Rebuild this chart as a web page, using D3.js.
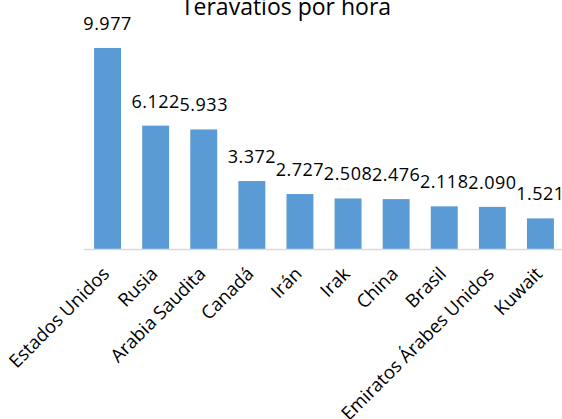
<!DOCTYPE html>
<html>
<head>
<meta charset="utf-8">
<script src="https://cdn.jsdelivr.net/npm/d3@7"></script>
<style>
  html, body { margin: 0; padding: 0; background: #fff; }
  svg { display: block; font-family: "Open Sans", sans-serif; }
</style>
</head>
<body>
<svg id="chart"></svg>
<script>
// datos del gráfico
var titulo = "Teravatios por hora";
var paises = ["Estados Unidos", "Rusia", "Arabia Saudita", "Canadá", "Irán", "Irak",
              "China", "Brasil", "Emiratos Árabes Unidos", "Kuwait"];
var valores = [9977, 6122, 5933, 3372, 2727, 2508, 2476, 2118, 2090, 1521];

var size = { width: 562, height: 419 };
var base = 249;   // posición del eje horizontal

var svg = d3.select("#chart")
    .attr("width", size.width)
    .attr("height", size.height);

// formato con punto de miles
var es = d3.formatLocale({ decimal: ",", thousands: ".", grouping: [3], currency: ["", "€"] });
var fmt = es.format(",d");

var x = d3.scaleBand()
    .domain(paises)
    .range([83.5, 564.5])
    .paddingInner(0.44)
    .paddingOuter(0.22);

var y = d3.scaleLinear()
    .domain([0, 10000])
    .range([base, 47.5]);

// título (cortado arriba como en el original)
svg.append("text")
    .attr("x", 286)
    .attr("y", 15)
    .attr("text-anchor", "middle")
    .style("font-size", "23px")
    .style("fill", "#000")
    .text(titulo);

// barras
svg.selectAll("rect.bar")
    .data(valores)
    .enter().append("rect")
    .attr("class", "bar")
    .attr("x", function(d, i){ return x(paises[i]); })
    .attr("y", function(d){ return y(d); })
    .attr("width", x.bandwidth())
    .attr("height", function(d){ return base - y(d); })
    .style("fill", "#5b9bd5");

// etiquetas de valores
svg.selectAll("text.valor")
    .data(valores)
    .enter().append("text")
    .attr("class", "valor")
    .attr("x", function(d, i){ return x(paises[i]) + x.bandwidth() / 2; })
    .attr("y", function(d){ return y(d) - 18; })
    .attr("text-anchor", "middle")
    .style("font-size", "18px")
    .style("letter-spacing", "0.5px")
    .style("fill", "#000")
    .text(function(d){ return fmt(d); });

// eje horizontal
var xAxis = d3.axisBottom(x).tickSize(0).tickPadding(0);
var gx = svg.append("g")
    .attr("transform", "translate(0," + base + ")")
    .call(xAxis);

gx.select(".domain")
    .attr("stroke", "#d9d9d9")
    .attr("stroke-width", 1.5);

gx.selectAll(".tick text")
    .attr("transform", "translate(3,26) rotate(-45)")
    .attr("text-anchor", "end")
    .attr("dy", "0")
    .attr("y", 0)
    .style("font-family", "'Open Sans', sans-serif")
    .style("font-size", "18.5px")
    .style("fill", "#000");
</script>
</body>
</html>
